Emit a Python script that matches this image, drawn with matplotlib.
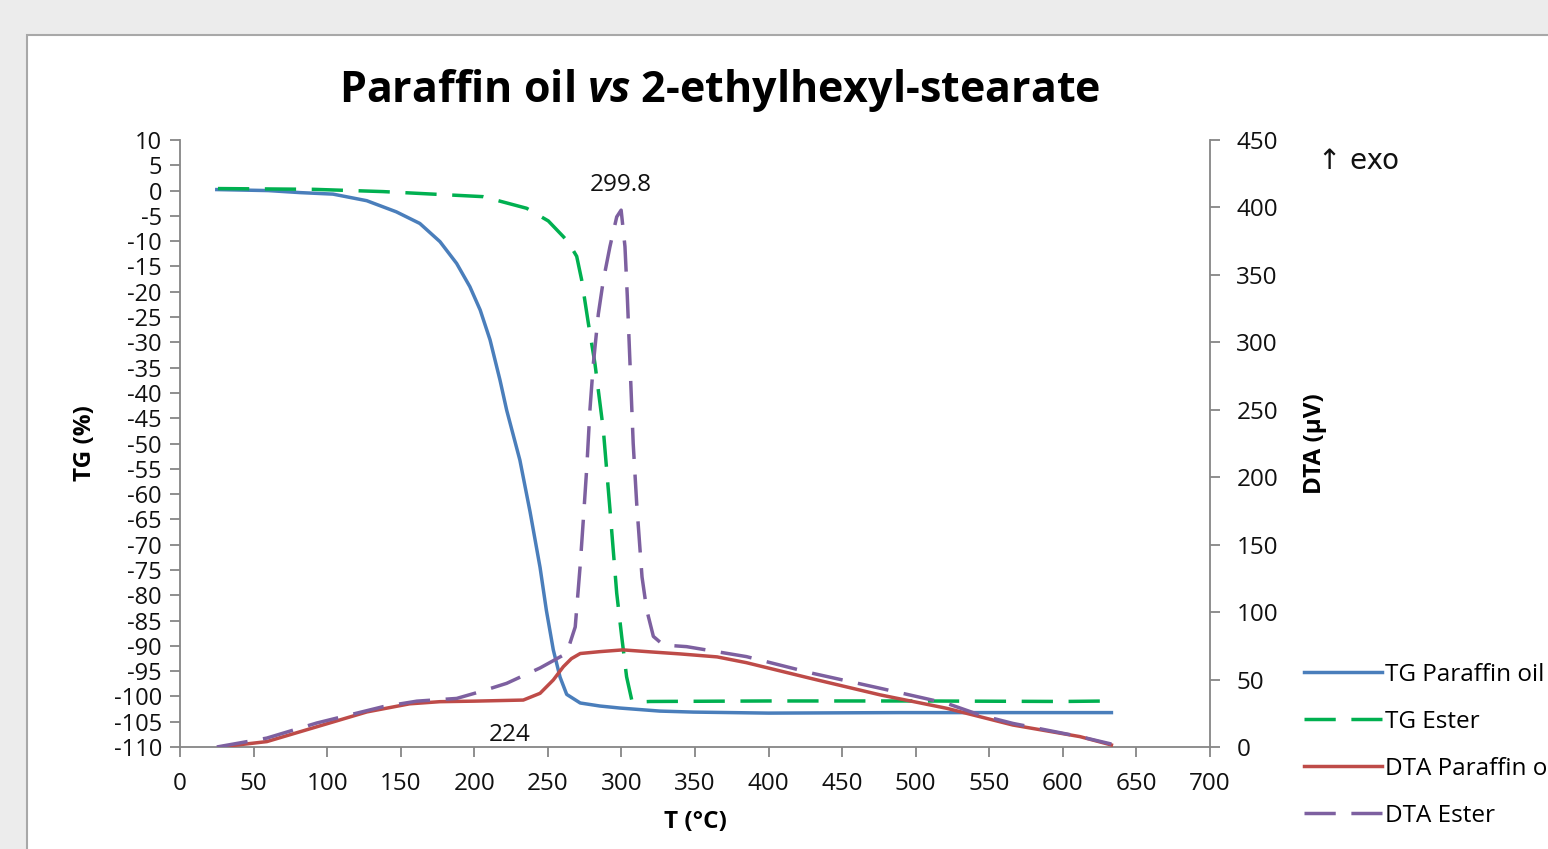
import matplotlib
matplotlib.use("Agg")
import matplotlib.pyplot as plt
from matplotlib.patches import Rectangle
from matplotlib.lines import Line2D

# ---------------- data ----------------
t_tg_par = [25, 60, 81.6, 104, 126.9, 147, 163, 176.7, 188, 197, 204, 210.7, 217.5, 222, 231, 237.9,
            244.7, 249, 253.7, 258.3, 262.8, 272, 285.4, 299, 326, 349, 400, 489, 557, 633]
tg_par = [0.2, 0, -0.4, -0.7, -2, -4.2, -6.5, -10.1, -14.4, -19, -23.6, -29.5, -37.5, -43.4, -53.3, -63.5,
          -74.5, -83, -90.8, -96.2, -99.6, -101.3, -101.9, -102.3, -102.9, -103.1, -103.3, -103.2, -103.2, -103.2]

t_tg_est = [25.8, 90.6, 138, 172, 206, 235.6, 250.3, 260.5, 263.9, 269.6, 273, 277.5, 282, 287.7, 292.2,
            296.8, 300.2, 303.5, 307, 312, 319.4, 400, 500, 600, 633]
tg_est = [0.4, 0.25, -0.2, -0.7, -1.2, -3.5, -6, -9.1, -10.2, -13, -17.7, -26.2, -34.2, -47.3, -63,
          -79.6, -88.2, -96.1, -100.7, -101.1, -101, -100.9, -100.9, -101.0, -100.9]

t_dta_par = [27, 59, 93, 127, 156, 176.7, 200, 233.3, 244.7, 253.7, 260.5, 266, 272, 285.4, 301, 320,
             340, 365, 385, 430, 476, 521, 566, 611.6, 633]
dta_par = [0, 4, 15, 26, 32, 33.6, 34, 34.8, 39.8, 49.7, 59.5, 65.5, 69.3, 70.7, 72, 70.5,
           69, 66.8, 62.5, 50.5, 38.6, 28.7, 16.3, 7.7, 1.5]

t_dta_est = [25, 59, 93, 138, 161, 188, 204, 222, 244.7, 262.8, 268.6, 272, 274.2, 276.5, 278.6, 280.9,
             284.3, 287.7, 292.2, 296.8, 299.8, 302.4, 304, 305.8, 308, 310.4, 314, 317.2, 321.7, 328.5,
             344.3, 385, 430, 476, 521, 543.7, 566, 611.6, 633]
dta_est = [0, 6.6, 17.8, 29.9, 34, 36, 41, 47.2, 58.6, 69.5, 89, 135, 170, 208, 250, 284,
           321, 346, 371, 393, 398, 371, 334, 285, 225, 180, 126, 101.6, 82, 75.6,
           74.4, 67, 54.6, 43.5, 32.4, 23.7, 17.5, 7.7, 2.2]

x_ticks = list(range(0, 701, 50))
tg_ticks = list(range(-110, 11, 5))
dta_ticks = list(range(0, 451, 50))

series_names = ["TG Paraffin oil", "TG Ester", "DTA Paraffin oil", "DTA Ester"]
label_onset = (224, 34.5, "224")
label_peak = (299.8, 398, "299.8")

# ---------------- style ----------------
FONT = ["Open Sans", "DejaVu Sans"]
plt.rcParams["font.family"] = FONT
plt.rcParams["axes.unicode_minus"] = False
plt.rcParams["mathtext.fontset"] = "custom"
plt.rcParams["mathtext.it"] = "Open Sans:italic:bold"
plt.rcParams["mathtext.rm"] = "Open Sans:bold"

C_BLUE = "#4A7EBB"
C_GREEN = "#00B050"
C_RED = "#BE4B48"
C_PURPLE = "#7D60A0"
AX_GRAY = "#868686"
LW = 2.5
DASH = (9, 4.5)
FS = 17.5

W, H = 1548, 849
fig = plt.figure(figsize=(W / 100, H / 100), dpi=100, facecolor="#ececec")

# chart area (white panel with border)
fig.patches.append(Rectangle((27 / W, -0.1), 1.2, (H - 35) / H + 0.1, transform=fig.transFigure,
                             facecolor="white", edgecolor="#a8a8a8", linewidth=1.5, zorder=-10))

ax = fig.add_axes([180 / W, 1 - 747 / H, (1210 - 180) / W, (747 - 140) / H])
ax.set_facecolor("none")
ax2 = ax.twinx()

ax.plot(t_tg_par, tg_par, color=C_BLUE, lw=LW, label=series_names[0], solid_joinstyle="round")
ax.plot(t_tg_est, tg_est, color=C_GREEN, lw=LW, dashes=DASH, label=series_names[1])
ax2.plot(t_dta_par, dta_par, color=C_RED, lw=LW, label=series_names[2], solid_joinstyle="round")
ax2.plot(t_dta_est, dta_est, color=C_PURPLE, lw=LW, dashes=DASH, label=series_names[3])

ax.set_xlim(0, 700)
ax.set_ylim(-110, 10)
ax2.set_ylim(0, 450)
ax.set_xticks(x_ticks)
ax.set_yticks(tg_ticks)
ax2.set_yticks(dta_ticks)

for a in (ax, ax2):
    a.spines["top"].set_visible(False)
    for s in ("left", "right", "bottom"):
        a.spines[s].set_color(AX_GRAY)
        a.spines[s].set_linewidth(1.3)
    a.tick_params(axis="both", which="major", length=7, width=1.3, color=AX_GRAY,
                  labelsize=FS, labelcolor="#111111", direction="out")
ax.tick_params(axis="y", pad=6, labelsize=FS - 0.5)
ax.tick_params(axis="x", pad=11)
ax2.tick_params(axis="y", pad=12)
ax.spines["right"].set_visible(False)
ax2.spines["left"].set_visible(False)
ax2.spines["bottom"].set_visible(False)

ax.set_xlabel("T (°C)", fontsize=FS, fontweight="bold", labelpad=10)
ax.set_ylabel("TG (%)", fontsize=FS, fontweight="bold", labelpad=12)
ax2.set_ylabel("DTA (µV)", fontsize=FS, fontweight="bold", labelpad=18)

# data labels
ax2.annotate(label_onset[2], xy=(label_onset[0], label_onset[1]), xytext=(0, -25),
             textcoords="offset points", ha="center", va="center", fontsize=FS, color="#111111")
ax2.annotate(label_peak[2], xy=(label_peak[0], label_peak[1]), xytext=(0, 18),
             textcoords="offset points", ha="center", va="center", fontsize=FS, color="#111111")

# title
fig.text(720 / W, 1 - 90 / H, "Paraffin oil $vs$ 2-ethylhexyl-stearate", ha="center", va="center",
         fontsize=31, fontweight="bold", color="black")

# exo note
fig.text(1318 / W, 1 - 161 / H, "↑ exo", ha="left", va="center", fontsize=20, color="#111111",
         family=["DejaVu Sans"])

# legend
handles = [
    Line2D([], [], color=C_BLUE, lw=LW),
    Line2D([], [], color=C_GREEN, lw=LW, dashes=DASH),
    Line2D([], [], color=C_RED, lw=LW),
    Line2D([], [], color=C_PURPLE, lw=LW, dashes=DASH),
]
fig.legend(handles, series_names, loc="upper left", bbox_to_anchor=(1294 / W, 1 - 653 / H),
           frameon=False, fontsize=FS, handlelength=3.2, handletextpad=0.15, labelspacing=0.95,
           borderaxespad=0)

fig.savefig("out.png", dpi=100, facecolor=fig.get_facecolor())
